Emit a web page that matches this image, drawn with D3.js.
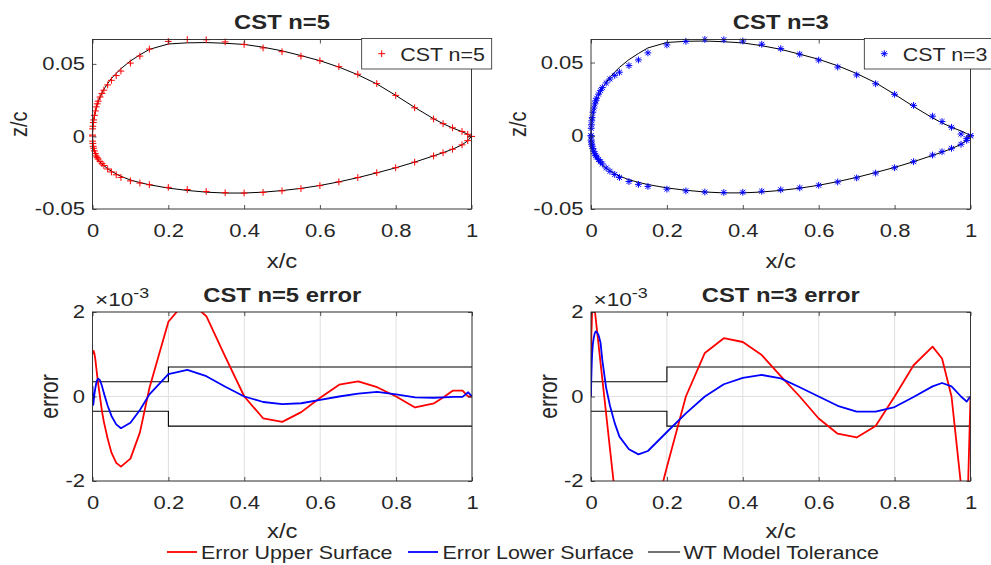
<!DOCTYPE html>
<html><head><meta charset="utf-8">
<script src="https://cdn.jsdelivr.net/npm/d3@7"></script>
<style>
html,body{margin:0;padding:0;background:#fff;}
svg{display:block;}
text{font-family:"Liberation Sans",Arial,Helvetica,sans-serif;fill:#262626;}
</style></head><body>
<svg id="c" width="991" height="565"></svg>
<script>
// ---------------- data ----------------
const xStations = [0, 0.0005, 0.001, 0.002, 0.003, 0.005, 0.0075, 0.01, 0.0125, 0.015, 0.02, 0.025, 0.03, 0.04, 0.05, 0.0625, 0.075, 0.1, 0.125, 0.15, 0.2, 0.25, 0.3, 0.35, 0.4, 0.45, 0.5, 0.55, 0.6, 0.65, 0.7, 0.75, 0.8, 0.85, 0.9, 0.925, 0.95, 0.975, 0.99, 1.0];
const refUpper = [0, 0.0042, 0.0060, 0.0085, 0.0103, 0.0135, 0.0167, 0.0197, 0.0220, 0.0240, 0.0272, 0.0300, 0.0325, 0.0365, 0.0400, 0.0435, 0.0467, 0.0520, 0.0562, 0.0600, 0.0637, 0.0645, 0.0647, 0.0642, 0.0634, 0.0615, 0.0590, 0.0557, 0.0522, 0.0478, 0.0425, 0.0362, 0.0283, 0.0200, 0.0122, 0.0088, 0.0058, 0.0033, 0.0015, 0];
const refLower = [0, -0.0033, -0.0047, -0.0066, -0.0080, -0.0100, -0.0120, -0.0138, -0.0150, -0.0160, -0.0177, -0.0190, -0.0201, -0.0222, -0.0240, -0.0258, -0.0275, -0.0300, -0.0318, -0.0333, -0.0356, -0.0372, -0.0384, -0.0390, -0.0390, -0.0384, -0.0373, -0.0358, -0.0338, -0.0313, -0.0284, -0.0251, -0.0216, -0.0177, -0.0134, -0.0112, -0.0088, -0.0058, -0.0030, 0];
// errors in units of 1e-3
const errUpperN5 = [1.00, 1.03, 1.05, 1.07, 1.08, 1.02, 0.88, 0.68, 0.48, 0.30, -0.02, -0.35, -0.60, -1.00, -1.33, -1.57, -1.66, -1.47, -0.85, 0.20, 1.77, 2.30, 1.90, 0.94, 0.00, -0.52, -0.60, -0.37, -0.03, 0.28, 0.36, 0.22, 0.00, -0.26, -0.16, -0.02, 0.14, 0.14, 0.00, 0.00];
const errLowerN5 = [0.25, 0.05, -0.12, -0.20, -0.12, 0.05, 0.20, 0.32, 0.39, 0.42, 0.38, 0.25, 0.08, -0.22, -0.46, -0.66, -0.75, -0.62, -0.32, 0.05, 0.53, 0.63, 0.48, 0.23, 0.00, -0.13, -0.18, -0.16, -0.08, 0.00, 0.07, 0.11, 0.05, -0.02, -0.03, -0.02, -0.01, -0.01, 0.10, 0.00];
const errUpperN3 = [0.00, 0.90, 1.50, 1.70, 2.10, 2.60, 2.25, 2.04, 1.84, 1.63, 1.22, 0.81, 0.40, -0.42, -1.24, -2.26, -3.30, -4.10, -4.40, -3.40, -1.67, 0.00, 1.03, 1.38, 1.29, 0.98, 0.48, 0.00, -0.52, -0.88, -0.97, -0.70, 0.00, 0.74, 1.18, 0.90, 0.00, -2.10, -3.30, 0.00];
const errLowerN3 = [0.00, 0.30, 0.50, 0.80, 1.00, 1.25, 1.40, 1.50, 1.54, 1.53, 1.45, 1.28, 0.85, 0.20, -0.22, -0.63, -0.95, -1.25, -1.37, -1.29, -0.84, -0.40, 0.00, 0.29, 0.44, 0.51, 0.43, 0.22, 0.00, -0.22, -0.36, -0.36, -0.25, -0.01, 0.24, 0.32, 0.24, 0.00, -0.12, 0.00];
const tolX = [0, 0.2, 0.2, 1];
const tolUpper = [0.35, 0.35, 0.7, 0.7];
const tolLower = [-0.35, -0.35, -0.7, -0.7];
const xTicks = [0, 0.2, 0.4, 0.6, 0.8, 1];
const zTicks = [-0.05, 0, 0.05];
const errTicks = [-2, 0, 2];
const errDomain = [-2, 2];
const zMin = -0.05;
const titles = ["CST n=5", "CST n=3", "CST n=5 error", "CST n=3 error"];
const legendLabels = ["Error Upper Surface", "Error Lower Surface", "WT Model Tolerance"];
const exponentLabel = ["\u00d710", "-3"];

// ---------------- layout / style ----------------
const SX = 1.19;
const AX = "#262626";
const svg = d3.select("#c");
const defs = svg.append("defs");

function label(g, x, y, str, o = {}) {
  const size = o.size || 18, anchor = o.anchor || "middle";
  let tr = `translate(${x},${y}) scale(${SX},1)`;
  if (o.rotate) tr += ` rotate(${o.rotate})`;
  return g.append("text").attr("transform", tr).attr("text-anchor", anchor)
    .style("font-size", size + "px").style("font-weight", o.weight || "normal").text(str);
}

function markerPath(type, s) {
  if (type === "+") return `M${-s},0H${s}M0,${-s}V${s}`;
  const d = s * 0.72;
  return `M${-s},0H${s}M0,${-s}V${s}M${-d},${-d}L${d},${d}M${-d},${d}L${d},${-d}`;
}

function drawAxes(g, p, x, y, yTicks) {
  const L = 4;
  const styleAxis = sel => {
    sel.attr("font-size", null).attr("font-family", null);
    sel.select(".domain").remove();
    sel.selectAll(".tick line").attr("stroke", AX).attr("stroke-width", 0.8);
  };
  g.append("g").attr("transform", `translate(0,${p.bottom})`)
    .call(d3.axisBottom(x).tickValues(xTicks).tickFormat(d => String(d)).tickSizeInner(-L).tickSizeOuter(0).tickPadding(15))
    .call(styleAxis)
    .call(s => s.selectAll(".tick text").attr("transform", `scale(${SX},1)`).style("font-size", "18.5px").attr("fill", AX));
  g.append("g").attr("transform", `translate(0,${p.top})`)
    .call(d3.axisTop(x).tickValues(xTicks).tickFormat("").tickSizeInner(-L).tickSizeOuter(0))
    .call(styleAxis);
  g.append("g").attr("transform", `translate(${p.left},0)`)
    .call(d3.axisLeft(y).tickValues(yTicks).tickFormat(d => String(d)).tickSizeInner(-L).tickSizeOuter(0).tickPadding(7))
    .call(styleAxis)
    .call(s => s.selectAll(".tick text").attr("x", -7.5 / SX).attr("transform", `scale(${SX},1)`).style("font-size", "18.5px").attr("fill", AX));
  g.append("g").attr("transform", `translate(${p.right},0)`)
    .call(d3.axisRight(y).tickValues(yTicks).tickFormat("").tickSizeInner(-L).tickSizeOuter(0))
    .call(styleAxis);
  g.append("rect").attr("x", p.left).attr("y", p.top).attr("width", p.right - p.left).attr("height", p.bottom - p.top)
    .attr("fill", "none").attr("stroke", AX).attr("stroke-width", 0.9);
}

const panels = [
  {left: 92.5, right: 471.5, top: 39.5, bottom: 209, titleY: 29.3, xlabY: 267.5, ylabX: 26.5},
  {left: 591, right: 970.5, top: 39.5, bottom: 209, titleY: 29.3, xlabY: 267.5, ylabX: 525.5},
  {left: 92.5, right: 472, top: 312, bottom: 481, titleY: 301.5, xlabY: 538, ylabX: 57.5},
  {left: 591, right: 970.5, top: 312, bottom: 481, titleY: 301.5, xlabY: 538, ylabX: 556.5}
];

function airfoilPanel(p, errU, errL, color, mtype, title, legendText, legX) {
  const g = svg.append("g");
  const cstU = xStations.map((xv, i) => [xv, refUpper[i] + errU[i] * 1e-3]);
  const cstL = xStations.map((xv, i) => [xv, refLower[i] + errL[i] * 1e-3]);
  const ymax = d3.max(cstU.concat(cstL), d => d[1]);
  const x = d3.scaleLinear().domain([0, 1]).range([p.left, p.right]);
  const y = d3.scaleLinear().domain([zMin, ymax]).range([p.bottom, p.top]);
  const contour = xStations.map((xv, i) => [xv, refUpper[i]]).reverse()
    .concat(xStations.map((xv, i) => [xv, refLower[i]]).slice(1));
  g.append("path").attr("d", d3.line().x(d => x(d[0])).y(d => y(d[1]))(contour))
    .attr("fill", "none").attr("stroke", "#000").attr("stroke-width", 1);
  g.append("g").selectAll("path").data(cstU.concat(cstL)).join("path")
    .attr("transform", d => `translate(${x(d[0])},${y(d[1])})`)
    .attr("d", markerPath(mtype, 3.4)).attr("fill", "none").attr("stroke", color).attr("stroke-width", 1);
  drawAxes(g, p, x, y, zTicks);
  label(g, (p.left + p.right) / 2, p.titleY, title, {size: 20, weight: "bold"});
  label(g, (p.left + p.right) / 2, p.xlabY, "x/c", {size: 20});
  label(g, p.ylabX, (p.top + p.bottom) / 2, "z/c", {size: 20, rotate: -90});
  // legend
  const lg = g.append("g");
  lg.append("rect").attr("x", legX).attr("y", 38.5).attr("width", 130).attr("height", 30.5)
    .attr("fill", "#fff").attr("stroke", AX).attr("stroke-width", 0.8);
  lg.append("path").attr("transform", `translate(${legX + 20},53.7)`).attr("d", markerPath(mtype, 3.4))
    .attr("fill", "none").attr("stroke", color).attr("stroke-width", 1);
  label(lg, legX + 38.5, 61.3, legendText, {size: 18, anchor: "start"});
}

function errorPanel(p, idx, errU, errL, title) {
  const g = svg.append("g");
  const x = d3.scaleLinear().domain([0, 1]).range([p.left, p.right]);
  const y = d3.scaleLinear().domain(errDomain).range([p.bottom, p.top]);
  const cid = "clip" + idx;
  defs.append("clipPath").attr("id", cid).append("rect")
    .attr("x", p.left).attr("y", p.top).attr("width", p.right - p.left).attr("height", p.bottom - p.top);
  // grid
  const grid = g.append("g").attr("stroke", "#dfdfdf").attr("stroke-width", 1);
  xTicks.forEach(t => grid.append("line").attr("x1", x(t)).attr("x2", x(t)).attr("y1", p.top).attr("y2", p.bottom));
  errTicks.forEach(t => grid.append("line").attr("x1", p.left).attr("x2", p.right).attr("y1", y(t)).attr("y2", y(t)));
  const line = d3.line().x(d => x(d[0])).y(d => y(d[1]));
  const dg = g.append("g").attr("clip-path", `url(#${cid})`);
  dg.append("path").attr("d", line(tolX.map((v, i) => [v, tolUpper[i]]))).attr("fill", "none").attr("stroke", "#000").attr("stroke-width", 1.1);
  dg.append("path").attr("d", line(tolX.map((v, i) => [v, tolLower[i]]))).attr("fill", "none").attr("stroke", "#000").attr("stroke-width", 1.1);
  dg.append("path").attr("d", line(xStations.map((v, i) => [v, errU[i]]))).attr("fill", "none").attr("stroke", "#ff0000").attr("stroke-width", 1.8).attr("stroke-linejoin", "round");
  dg.append("path").attr("d", line(xStations.map((v, i) => [v, errL[i]]))).attr("fill", "none").attr("stroke", "#0000ff").attr("stroke-width", 1.8).attr("stroke-linejoin", "round");
  drawAxes(g, p, x, y, errTicks);
  label(g, (p.left + p.right) / 2, p.titleY, title, {size: 20, weight: "bold"});
  label(g, (p.left + p.right) / 2, p.xlabY, "x/c", {size: 20});
  label(g, p.ylabX, (p.top + p.bottom) / 2, "error", {size: 21, rotate: -90});
  const e1 = label(g, p.left + 2.5, 306, exponentLabel[0], {size: 19, anchor: "start"});
  const w = e1.node().getComputedTextLength() * SX;
  label(g, p.left + 2.5 + w, 298, exponentLabel[1], {size: 15, anchor: "start"});
}

airfoilPanel(panels[0], errUpperN5, errLowerN5, "#ff0000", "+", titles[0], "CST n=5", 361.7);
airfoilPanel(panels[1], errUpperN3, errLowerN3, "#0000ff", "*", titles[1], "CST n=3", 864.3);
errorPanel(panels[2], 2, errUpperN5, errLowerN5, titles[2]);
errorPanel(panels[3], 3, errUpperN3, errLowerN3, titles[3]);

// bottom legend
const lg = svg.append("g");
const legItems = [
  {x1: 167, x2: 197, tx: 201, color: "#ff0000", w: 1.8},
  {x1: 408, x2: 438, tx: 442.5, color: "#0000ff", w: 1.8},
  {x1: 648, x2: 680, tx: 683.5, color: "#000000", w: 1.1}
];
legItems.forEach((it, i) => {
  lg.append("line").attr("x1", it.x1).attr("x2", it.x2).attr("y1", 552).attr("y2", 552)
    .attr("stroke", it.color).attr("stroke-width", it.w);
  label(lg, it.tx, 559, legendLabels[i], {size: 18, anchor: "start"});
});
</script>
</body></html>
